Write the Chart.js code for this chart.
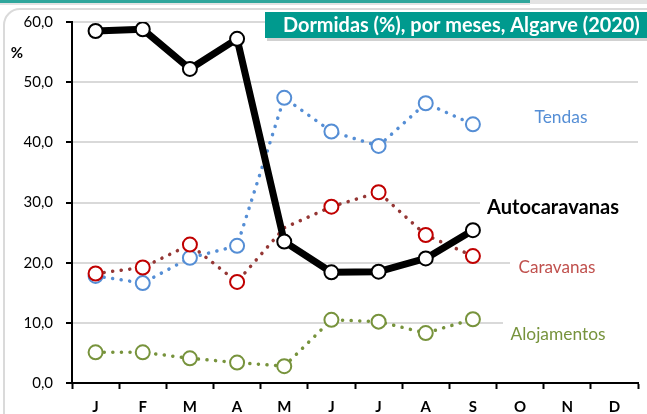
<!DOCTYPE html>
<html><head><meta charset="utf-8">
<script src="https://cdn.jsdelivr.net/npm/chart.js@4"></script>
<style>html,body{margin:0;padding:0;background:#fff;}#wrap{width:647px;height:414px;position:relative;}</style>
</head><body><div id="wrap"><canvas id="c" width="647" height="414"></canvas></div>
<script>
const months = ['J','F','M','A','M','J','J','A','S','O','N','D'];
const autocaravanas = [58.5, 58.8, 52.2, 57.2, 23.5, 18.4, 18.5, 20.7, 25.4, null, null, null];
const tendas = [17.8, 16.6, 20.8, 22.8, 47.4, 41.8, 39.4, 46.5, 43.0, null, null, null];
const caravanas = [18.2, 19.2, 23.0, 16.8, 25.8, 29.3, 31.7, 24.6, 21.1, null, null, null];
const alojamentos = [5.1, 5.1, 4.1, 3.4, 2.8, 10.5, 10.2, 8.3, 10.6, null, null, null];
const caravanasMarker = [7, 7, 7, 7, 0, 7, 7, 7, 7, 0, 0, 0];
const yTicks = [0, 10, 20, 30, 40, 50, 60];
const title = 'Dormidas (%), por meses, Algarve (2020)';
const seriesLabels = [
  {text:'Tendas', color:'#558ED5', bold:false, w:53, x:561, y:116, bl:525, br:600},
  {text:'Autocaravanas', color:'#000', bold:true, w:132, x:553, y:207, bl:480, br:647},
  {text:'Caravanas', color:'#C0504D', bold:false, w:77, x:557, y:266, bl:510, br:642},
  {text:'Alojamentos', color:'#77933C', bold:false, w:95, x:558, y:333, bl:503, br:647}
];
const FONT = 'Lato, "Open Sans", sans-serif';

function fitFont(ctx, text, bold, target){
  ctx.font = (bold ? 'bold ' : '') + '20px ' + FONT;
  const w = ctx.measureText(text).width;
  const fs = 20 * target / w;
  ctx.font = (bold ? 'bold ' : '') + fs.toFixed(2) + 'px ' + FONT;
  return fs;
}

const decor = {
  id:'decor',
  beforeDraw(chart){
    const ctx = chart.ctx;
    ctx.save();
    ctx.fillStyle = '#fff';
    ctx.fillRect(0,0,chart.width,chart.height);
    ctx.fillStyle = '#2FA69C';
    ctx.fillRect(0,0,530,3);
    ctx.fillStyle = '#e3e3e3';
    ctx.fillRect(0,3,530,2);
    ctx.fillRect(530,0,117,4);
    ctx.strokeStyle = '#dadada';
    ctx.lineWidth = 2;
    ctx.beginPath();
    const r = 16, x0 = 4, y0 = 9;
    ctx.moveTo(x0, 440);
    ctx.lineTo(x0, y0 + r);
    ctx.arcTo(x0, y0, x0 + r, y0, r);
    ctx.lineTo(700, y0);
    ctx.stroke();
    ctx.restore();
  },
  afterDraw(chart){
    const ctx = chart.ctx;
    ctx.save();
    ctx.fillStyle = 'rgba(0,0,0,0.18)';
    ctx.fillRect(267,14,382,27);
    ctx.fillStyle = '#009A8E';
    ctx.fillRect(265,12,382,26);
    fitFont(ctx, title, true, 357);
    ctx.fillStyle = '#fff';
    ctx.textBaseline = 'middle';
    ctx.textAlign = 'left';
    ctx.fillText(title, 283, 25.5);
    ctx.fillStyle = '#000';
    ctx.font = 'bold 15px ' + FONT;
    ctx.textAlign = 'center';
    ctx.fillText('%', 17, 53);
    ctx.restore();
  },
  beforeDatasetsDraw(chart){
    const ctx = chart.ctx;
    ctx.save();
    ctx.textBaseline = 'middle';
    ctx.textAlign = 'center';
    seriesLabels.forEach(l => {
      fitFont(ctx, l.text, l.bold, l.w);
      ctx.fillStyle = '#fff';
      ctx.fillRect(l.bl, l.y - 11, l.br - l.bl, 22);
      ctx.fillStyle = l.color;
      ctx.fillText(l.text, l.x, l.y + 1);
    });
    ctx.restore();
  }
};

function dotted(label, data, lineColor, markerColor, radius){
  return {
    label, data,
    borderColor: lineColor,
    borderWidth: 3.5,
    borderDash: [0.1, 8.5],
    borderCapStyle: 'round',
    pointRadius: radius || 7,
    pointHoverRadius: radius || 7,
    pointBorderWidth: 2,
    pointBorderColor: markerColor,
    pointBackgroundColor: '#fff',
    spanGaps: false,
    tension: 0
  };
}

new Chart(document.getElementById('c'), {
  type: 'line',
  data: {
    labels: months,
    datasets: [
      {
        label: 'Autocaravanas', data: autocaravanas,
        borderColor: '#000', borderWidth: 7, borderJoinStyle: 'round',
        pointRadius: 7, pointHoverRadius: 7, pointBorderWidth: 2,
        pointBorderColor: '#000', pointBackgroundColor: '#fff', tension: 0
      },
      dotted('Caravanas', caravanas, '#953735', '#C00000', caravanasMarker),
      dotted('Tendas', tendas, '#558ED5', '#558ED5'),
      dotted('Alojamentos', alojamentos, '#77933C', '#77933C')
    ]
  },
  options: {
    responsive: false,
    animation: false,
    devicePixelRatio: 1,
    layout: { padding: { top: 20, right: 0, left: 0, bottom: 0 } },
    plugins: { legend: { display: false }, tooltip: { enabled: false }, title: { display: false } },
    scales: {
      x: {
        type: 'category',
        offset: true,
        border: { color: '#000', width: 2 },
        grid: { offset: true, drawOnChartArea: false, drawTicks: true, tickLength: 6, tickColor: '#000', tickWidth: 2 },
        ticks: { color: '#000', font: { family: FONT, size: 15, weight: 'bold' }, padding: 9, maxRotation: 0, autoSkip: false },
        afterFit(s){ s.height = 31; }
      },
      y: {
        min: 0, max: 60,
        afterBuildTicks(s){ s.ticks = yTicks.map(v => ({ value: v })); },
        border: { color: '#000', width: 2 },
        grid: {
          color: ctx => ctx.tick && ctx.tick.value === 0 ? 'rgba(0,0,0,0)' : '#d9d9d9',
          lineWidth: 2, drawTicks: true, tickLength: 6, tickColor: '#000', tickWidth: 2
        },
        ticks: {
          color: '#000', font: { family: FONT, size: 15 }, padding: 13,
          callback: v => v.toFixed(1).replace('.', ',')
        },
        afterFit(s){ s.width = 72; }
      }
    }
  },
  plugins: [decor]
});
</script>
</body></html>
